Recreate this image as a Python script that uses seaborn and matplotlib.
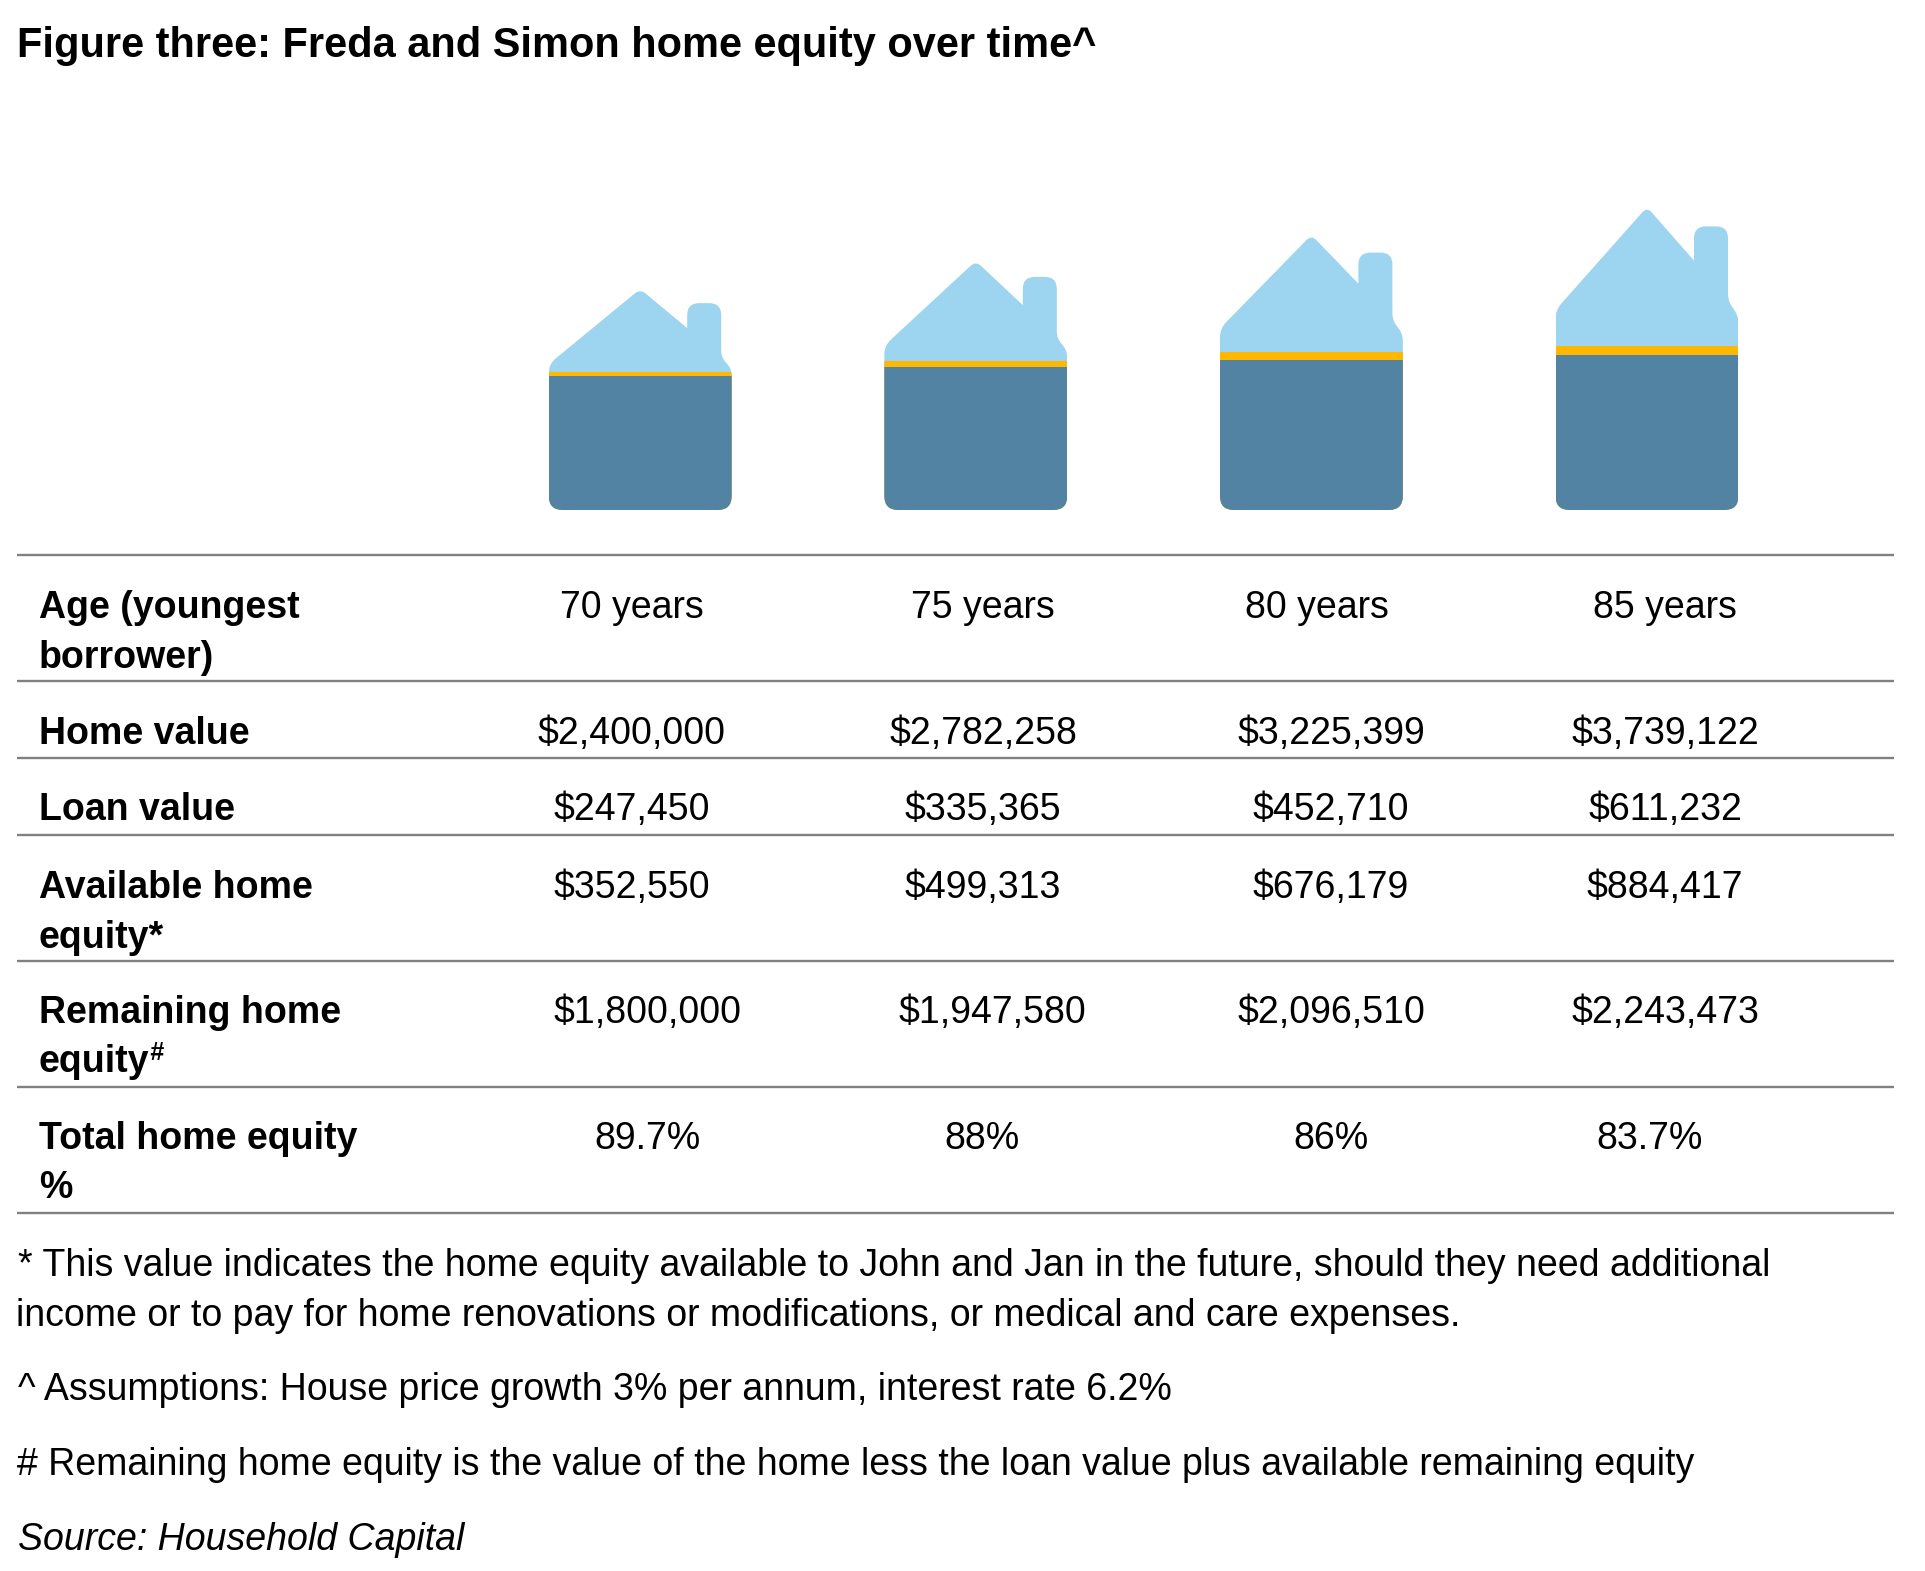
import matplotlib
matplotlib.use("Agg")
import matplotlib.pyplot as plt
import numpy as np
import seaborn as sns
from matplotlib.path import Path
from matplotlib.patches import PathPatch

# chart data
ages = ["70 years", "75 years", "80 years", "85 years"]
roof_heights = [221, 249, 275, 303]
band_heights = [138, 149, 158, 164]
base_heights = [134, 143, 150, 155]

row_labels = ["Age (youngest\nborrower)", "Home value", "Loan value",
              "Available home\nequity*", "Remaining home\nequity", "Total home equity\n%"]
home_value = ["$2,400,000", "$2,782,258", "$3,225,399", "$3,739,122"]
loan_value = ["$247,450", "$335,365", "$452,710", "$611,232"]
available_equity = ["$352,550", "$499,313", "$676,179", "$884,417"]
remaining_equity = ["$1,800,000", "$1,947,580", "$2,096,510", "$2,243,473"]
total_equity = ["89.7%", "88%", "86%", "83.7%"]

title = "Figure three: Freda and Simon home equity over time^"
notes = [
    "* This value indicates the home equity available to John and Jan in the future, should they need additional",
    "income or to pay for home renovations or modifications, or medical and care expenses.",
    "^ Assumptions: House price growth 3% per annum, interest rate 6.2%",
    "# Remaining home equity is the value of the home less the loan value plus available remaining equity",
]
source = "Source: Household Capital"

W, H = 1925, 1571
DARK, LIGHT, GOLD, RULE = "#5283A3", "#9DD4EF", "#FFB700", "#808080"
INK = "black"
FS = 27.03

sns.set_theme(style="white")
plt.rcParams["font.family"] = ["Liberation Sans", "DejaVu Sans"]

fig = plt.figure(figsize=(W / 100, H / 100), dpi=100, facecolor="white")

# page layer in pixel coordinates for the table and the text
page = fig.add_axes([0, 0, 1, 1])
page.set_xlim(0, W)
page.set_ylim(H, 0)
page.axis("off")

# houses: overlaid bars, cut to a house outline
ax = fig.add_axes([472.4 / W, (H - 510) / H, 1342.4 / W, 320 / H])
ax.patch.set_alpha(0)
bar_w = 0.545
for vals, col in [(roof_heights, LIGHT), (band_heights, GOLD), (base_heights, DARK)]:
    sns.barplot(x=ages, y=vals, color=col, width=bar_w, saturation=1, linewidth=0, ax=ax)
ax.set_xlim(-0.5, 3.5)
ax.set_ylim(0, 320)
ax.axis("off")


def rounded(points):
    # closed outline, corners softened with quadratic curves
    verts, codes = [], []
    n = len(points)
    for i, (x, y, r) in enumerate(points):
        p = np.array([x, y])
        d1 = np.array(points[i - 1][:2]) - p
        d2 = np.array(points[(i + 1) % n][:2]) - p
        f1 = min(1, r / max(np.linalg.norm(d1 * [335.6, 1]), 1e-6))
        f2 = min(1, r / max(np.linalg.norm(d2 * [335.6, 1]), 1e-6))
        a, b = p + d1 * f1, p + d2 * f2
        verts += [a, p, b]
        codes += [Path.LINETO, Path.CURVE3, Path.CURVE3]
    codes[0] = Path.MOVETO
    verts.append(verts[0])
    codes.append(Path.CLOSEPOLY)
    return Path(verts, codes)


def house_outline(cx, top):
    half = bar_w / 2
    return rounded([
        (cx - half, 0, 14),
        (cx + half, 0, 14),
        (cx + half, 0.64 * top, 7),
        (cx + 81 / 335.6, 0.69 * top, 7),
        (cx + 81 / 335.6, 0.936 * top, 12),
        (cx + 47 / 335.6, 0.936 * top, 12),
        (cx + 47 / 335.6, 0.823 * top, 0),
        (cx, top, 7),
        (cx - half, 0.66 * top, 9),
    ])


outlines = [house_outline(i, top) for i, top in enumerate(roof_heights)]
for i, bar in enumerate(ax.patches):
    bar.set_clip_path(PathPatch(outlines[i % 4], transform=ax.transData))

# table rules
rule_y = [555, 681, 758, 835, 961, 1087, 1213]
page.hlines(rule_y, 17, 1894, color=RULE, lw=1.7)

# table text
label_y = [618, 744, 820, 898, 1023, 1149]
line_gap = 49.5
for lab, y in zip(row_labels, label_y):
    for k, part in enumerate(lab.split("\n")):
        t = page.text(39, y + k * line_gap, part, fontsize=FS, fontweight="bold", va="baseline", color=INK)
        if part == "equity" and lab.startswith("Remaining"):
            page.annotate("#", xy=(1, 0), xycoords=t, xytext=(-0.5, 15), textcoords="offset points",
                          fontsize=18, fontweight="bold", style="italic", va="baseline", color=INK)

rows = [ages, home_value, loan_value, available_equity, remaining_equity, total_equity]
col_x = [
    [632, 983, 1317, 1665],
    [632, 983, 1331, 1665],
    [632, 983, 1331, 1665],
    [632, 983, 1331, 1665],
    [647.5, 992.5, 1331, 1665],
    [647, 982, 1331, 1650],
]
for vals, xs, y in zip(rows, col_x, label_y):
    for v, x in zip(vals, xs):
        page.text(x, y, v, fontsize=FS, ha="center", va="baseline", color=INK)

# title and notes
page.text(17, 57, title, fontsize=29.9, fontweight="bold", va="baseline", color=INK)
note_x = [17.5, 16.5, 17.5, 17]
for note, x, y in zip(notes, note_x, [1276, 1326, 1400, 1475]):
    page.text(x, y, note, fontsize=FS, va="baseline", color=INK)
page.text(18, 1550, source, fontsize=FS, style="italic", va="baseline", color=INK)

fig.savefig("out.png", dpi=100, facecolor="white")
